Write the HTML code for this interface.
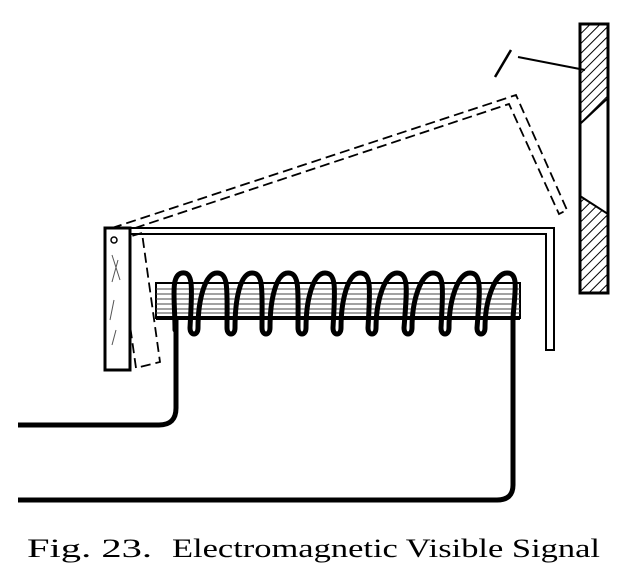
<!DOCTYPE html>
<html><head><style>body{margin:0;background:#fff}svg{display:block}</style></head><body>
<svg width="638" height="574" viewBox="0 0 638 574" xmlns="http://www.w3.org/2000/svg">
<defs>
<pattern id="h" width="7" height="7" patternUnits="userSpaceOnUse" patternTransform="rotate(45)">
<line x1="0" y1="0" x2="0" y2="7" stroke="#000" stroke-width="2"/>
</pattern>
</defs>
<g fill="none" stroke="#000">
<rect x="580" y="24" width="28" height="269" stroke-width="3"/>
<polygon points="580,24 608,24 608,98 580,124" fill="url(#h)" stroke-width="2"/>
<polygon points="580,196 608,214 608,293 580,293" fill="url(#h)" stroke-width="2"/>
<line x1="495" y1="77" x2="511" y2="50" stroke-width="2.5"/>
<line x1="518" y1="57" x2="585" y2="70" stroke-width="2"/>
<g stroke-dasharray="10,5" stroke-width="1.8">
<polyline points="112,228 516,95 567,210 559,214 509,104 117,234"/>
<polygon points="118,240 142,233 160,362 136,368"/>
</g>
<polyline points="118,228 554,228 554,350 546,350 546,234 128,234" stroke-width="2"/>
<rect x="105" y="228" width="25" height="142" stroke-width="3" fill="#fff"/>
<circle cx="114" cy="240" r="3" stroke-width="1.5"/>
<path d="M112 255 L120 280 M118 260 L112 282 M114 300 L110 320 M116 330 L112 345" stroke-width="1" stroke="#555"/>
<rect x="156" y="283" width="364" height="35" stroke-width="2"/>
<path d="M156 289H520M156 294H520M156 299H520M156 304H520M156 309H520M156 313H520" stroke-width="1" stroke="#444"/>
<line x1="156" y1="318" x2="520" y2="318" stroke-width="4"/>
<path stroke-width="5" stroke-linecap="round" d="
M175 330 C175 300 170 275 182 273 C194 271 192 290 190 328
C190 336 198 336 198 328 C198 300 205 273 217 273 C229 273 227 290 227 328
C227 336 235 336 235 328 C235 300 240 273 252 273 C264 273 262 290 262 328
C262 336 270 336 270 328 C270 300 276 273 288 273 C300 273 298 290 298 328
C298 336 306 336 306 328 C306 300 313 273 325 273 C337 273 335 290 333 328
C333 336 341 336 341 328 C341 300 348 273 360 273 C372 273 370 290 368 328
C368 336 376 336 376 328 C376 300 385 273 397 273 C409 273 407 290 404 328
C404 336 412 336 412 328 C412 300 421 273 433 273 C445 273 443 290 441 328
C441 336 449 336 449 328 C449 300 458 273 470 273 C482 273 480 290 477 328
C477 336 485 336 485 328 C485 300 495 273 507 273 C519 273 515 290 513 318"/>
<path d="M176 320 V408 Q176 425 159 425 H18" stroke-width="5"/>
<path d="M513 318 V485 Q513 500 497 500 H18" stroke-width="5"/>
</g>
<g font-family="Liberation Serif, serif" font-size="26" fill="#000">
<text x="27" y="557" textLength="125" lengthAdjust="spacingAndGlyphs">Fig. 23.</text>
<text x="172" y="557" textLength="428" lengthAdjust="spacingAndGlyphs">Electromagnetic Visible Signal</text>
</g>
</svg>
</body></html>
